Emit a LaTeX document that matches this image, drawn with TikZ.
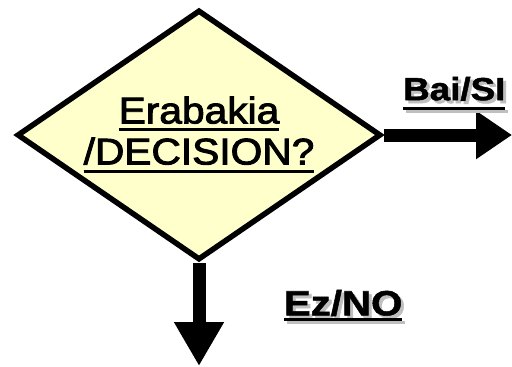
\documentclass[tikz,border=0pt]{standalone}
\usepackage{fontspec}
\setmainfont{Liberation Sans}
\newfontfamily\decisionFont[FakeStretch=1.1,FakeBold=2.5]{Liberation Sans}
\newfontfamily\answerFont[FakeStretch=1.15,FakeBold=1.5]{Liberation Sans}
\usetikzlibrary{shapes.geometric,arrows.meta,positioning}
\definecolor{paleYellow}{RGB}{255,255,204}
\newcommand{\ulText}[2]{\setbox0=\hbox{#2}\rlap{\rule[-#1]{\wd0}{3.5pt}}\box0}
\newcommand{\shadowText}[1]{\rlap{\raisebox{-3pt}{\hspace{3pt}\color{black!25}#1}}#1}

\begin{document}
\begin{tikzpicture}[x=1pt, y=-1pt]
  \tikzset{decision/.style={diamond, aspect=1.46, draw, line width=5.5pt, fill=paleYellow,
      minimum width=364pt, minimum height=250pt, inner sep=0pt,
      align=center, font=\decisionFont\fontsize{37}{41}\selectfont},
    flow/.style={line width=13pt, -{Triangle[width=46pt,length=36pt]}},
    answer/.style={font=\answerFont\bfseries}}
  \useasboundingbox (0,0) rectangle (512,367);
  \node[decision] (choice) at (199,135) {\ulText{8pt}{Erabakia}\\\ulText{9pt}{/DECISION?}};
  \coordinate (yesEnd) at (512,135);
  \coordinate (noEnd) at (199,366);
  \draw[flow] (choice.east) -- (yesEnd)
    node[answer, pos=0.55, above=12pt] {\fontsize{32}{32}\selectfont\shadowText{\ulText{10pt}{Bai/SI}}};
  \draw[flow, -{Triangle[width=47pt,length=44pt]}] (choice.south) -- (noEnd)
    node[answer, pos=0.43, right=75pt] {\fontsize{35}{35}\selectfont\shadowText{\ulText{6pt}{Ez/NO}}};
\end{tikzpicture}
\end{document}
